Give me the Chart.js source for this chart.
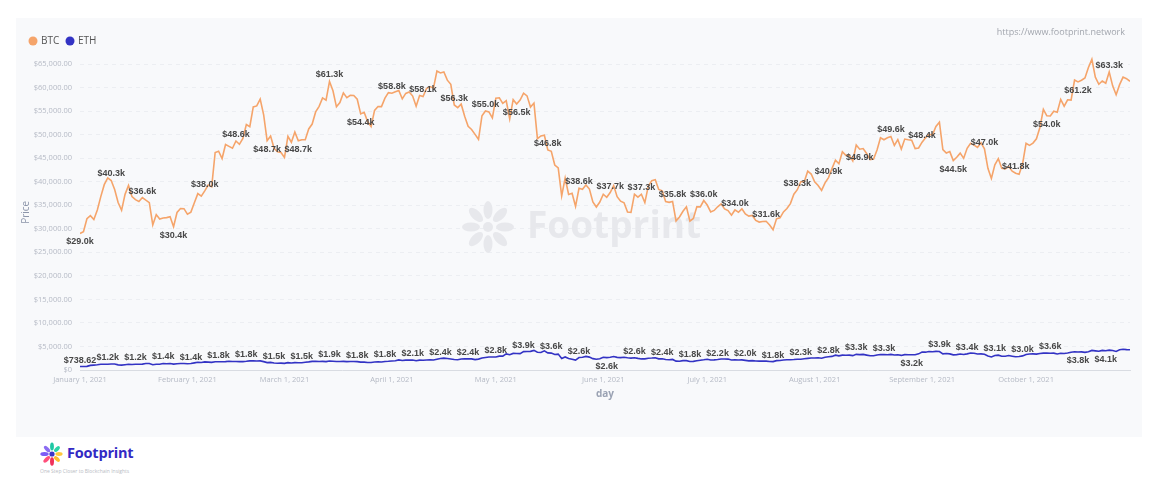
<!DOCTYPE html>
<html>
<head>
<meta charset="utf-8">
<script src="https://cdn.jsdelivr.net/npm/chart.js@4.4.0/dist/chart.umd.min.js"></script>
<style>
  html, body { margin: 0; padding: 0; background: #fff; width: 1154px; height: 490px; overflow: hidden; }
  #panel { position: absolute; left: 16px; top: 18px; width: 1126px; height: 419px; background: #f8f9fb; }
  #panel canvas { display: block; }
  #logo { position: absolute; left: 40px; top: 441px; width: 110px; height: 36px; font-family: "Open Sans", sans-serif; }
  #logo svg { position: absolute; left: 0; top: 0; }
  #logo .name { position: absolute; left: 27px; top: 2px; font-size: 14.5px; font-weight: 700; color: #3329c4; letter-spacing: -0.2px; }
  #logo .tag { position: absolute; left: 0; top: 27px; font-size: 5px; color: #b9bcc4; white-space: nowrap; }
</style>
</head>
<body>
<div id="panel"><canvas id="priceChart" width="1126" height="419"></canvas></div>
<div id="logo">
  <svg width="26" height="26" viewBox="0 0 26 26">
    <g transform="translate(12,13)">
      <ellipse rx="1.9" ry="4" transform="rotate(-45) translate(0,-7)" fill="#8b6cf2"/>
      <ellipse rx="1.9" ry="4" transform="rotate(0) translate(0,-7.5)" fill="#1fc7a4"/>
      <ellipse rx="1.9" ry="3.6" transform="rotate(45) translate(0,-7)" fill="#2bd3a6"/>
      <ellipse rx="1.9" ry="3.6" transform="rotate(90) translate(0,-7)" fill="#ffc83d"/>
      <ellipse rx="1.9" ry="3.6" transform="rotate(135) translate(0,-7)" fill="#ffbe2e"/>
      <ellipse rx="2" ry="4.2" transform="rotate(180) translate(0,-7.5)" fill="#f0335b"/>
      <ellipse rx="2" ry="4.2" transform="rotate(225) translate(0,-7.5)" fill="#ff4f7b"/>
      <ellipse rx="2" ry="4.2" transform="rotate(270) translate(0,-7.5)" fill="#7b5cf5"/>
      <circle r="2.6" fill="#3d34c7"/>
    </g>
  </svg>
  <div class="name">Footprint</div>
  <div class="tag">One Step Closer to Blockchain Insights</div>
</div>
<script>
  // 日ごとの価格 (2021/1/1 = 0)
  const btcPrice = [
    29000,29374,32127,32782,31971,33992,36824,39371,40797,40254,
    38356,35566,33923,37316,39187,36825,36178,35792,36630,36069,
    35547,30825,33005,32067,32289,32366,32569,30432,33466,34316,
    34269,33114,33537,35510,37472,36926,38040,39266,38903,46196,
    46481,44918,47909,47504,47105,48640,47945,49199,52149,51679,
    55888,56099,57539,54207,48700,49705,47093,46339,46188,45137,
    49631,48378,50538,48700,48927,48912,51206,52246,54824,56008,
    57805,57332,61300,59302,55907,56804,58870,57858,58346,58313,
    57523,54400,54738,52774,51704,55137,55974,55947,57750,58917,
    58800,59095,59384,57604,58758,59057,58192,56048,58323,58100,
    59794,60204,59893,63504,63110,63314,61572,60683,56300,55724,
    56473,53906,51763,51094,50050,49004,54021,55033,54824,53555,
    57750,57828,56631,57200,53333,57424,56500,57356,58804,58232,
    55859,56704,49150,49716,49880,46760,46456,43538,42909,37002,
    40782,37304,37536,34770,38600,38402,39294,38436,35697,34616,
    35678,37332,36684,37700,39187,36825,35871,35520,33560,33472,
    37345,36702,37334,35552,39097,40218,40406,38347,38053,35787,
    35615,35800,31676,32505,33723,34662,31637,32186,34650,34649,
    36000,35041,33572,33897,34668,35287,34235,33855,32877,34000,
    33520,34240,33155,32702,32822,31780,31421,31533,31600,30817,
    29807,32110,32313,33581,34292,35350,37337,38300,39995,40008,
    42235,41626,39974,39201,38152,39747,40869,42816,44555,43798,
    46365,45585,45593,44428,47793,46900,47047,46004,44695,44801,
    46717,49339,48905,49321,49600,47706,48960,46942,49058,48902,
    48829,47054,47166,48400,49327,50025,49944,51753,52633,46811,
    46091,46391,44500,45201,46063,44963,47092,48177,47783,47267,
    48278,47000,42844,40694,43574,44896,42840,42717,43209,42236,
    41800,41564,43791,48165,47712,48200,49113,51514,55362,54000,
    53967,54968,54772,57484,56041,57401,57321,61593,61200,61553,
    62027,64262,65993,62210,60693,61393,60931,63300,60364,58482,
    60622,62228,61888,61318
  ];
  const ethPrice = [
    738.62,730,775,979,1042,1100,1208,1225,1224,1282,
    1262,1090,1043,1131,1229,1170,1233,1230,1257,1377,
    1383,1121,1236,1231,1392,1325,1363,1252,1332,1382,
    1377,1314,1370,1511,1660,1594,1719,1677,1614,1746,
    1768,1744,1783,1843,1814,1804,1779,1781,1848,1937,
    1960,1919,1935,1777,1573,1625,1475,1446,1459,1416,
    1564,1492,1575,1541,1533,1654,1723,1834,1868,1799,
    1826,1772,1924,1854,1791,1806,1823,1782,1807,1809,
    1781,1680,1669,1582,1588,1703,1716,1692,1819,1846,
    1919,1977,2143,2028,2093,2108,2118,1971,2088,2072,
    2136,2157,2139,2299,2435,2519,2431,2345,2237,2166,
    2331,2364,2403,2363,2214,2316,2534,2662,2747,2757,
    2773,2945,2950,3431,3253,3522,3490,3484,3903,3928,
    3953,4169,3785,3716,4079,3638,3587,3282,3374,2460,
    2772,2431,2296,2109,2643,2706,2888,2736,2419,2279,
    2386,2706,2634,2706,2856,2688,2630,2715,2590,2517,
    2608,2471,2353,2373,2508,2537,2610,2368,2372,2231,
    2178,2246,1888,1874,1990,1989,1813,1829,1978,2084,
    2167,2274,2113,2150,2226,2321,2324,2315,2116,2146,
    2112,2140,2037,1940,1994,1911,1880,1898,1895,1820,
    1787,1995,2025,2124,2187,2191,2233,2298,2297,2380,
    2462,2536,2561,2610,2502,2724,2827,2890,3157,3014,
    3163,3144,3165,3049,3322,3265,3310,3156,3014,3020,
    3182,3286,3260,3242,3320,3172,3224,3100,3270,3244,
    3227,3224,3433,3834,3790,3941,3887,3952,3927,3427,
    3497,3427,3212,3270,3410,3285,3429,3615,3571,3398,
    3432,3329,2958,2764,3077,3155,2931,2925,3063,2934,
    2807,2853,3001,3307,3391,3418,3380,3518,3581,3587,
    3563,3575,3415,3545,3493,3606,3786,3863,3831,3848,
    3748,3877,4155,4056,3972,4169,4083,4218,4131,3930,
    4288,4414,4325,4288
  ];
  // x軸の目盛り (日番号とラベル)
  const monthTickDays = [0, 31, 59, 90, 120, 151, 181, 212, 243, 273];
  const monthTickLabels = ['January 1, 2021', 'February 1, 2021', 'March 1, 2021', 'April 1, 2021', 'May 1, 2021',
    'June 1, 2021', 'July 1, 2021', 'August 1, 2021', 'September 1, 2021', 'October 1, 2021'];
  const yTickValues = [0, 5000, 10000, 15000, 20000, 25000, 30000, 35000, 40000, 45000, 50000, 55000, 60000, 65000];

  // ラベル表示 (何点おきか, 下側に置く点)
  const btcLabelStep = 9, ethLabelStep = 8;
  const btcBelow = [0, 27, 54, 63, 81, 126, 225, 252, 279, 288];
  const ethBelow = [152, 240, 288, 296];

  const btcColor = '#f5a46a';
  const ethColor = '#3333c4';

  const fmtLabel = v => v < 1000 ? '$' + v.toFixed(2) : '$' + (v / 1000).toFixed(1) + 'k';
  const fmtAxis = v => v === 0 ? '$0' : '$' + v.toLocaleString('en-US', { minimumFractionDigits: 2, maximumFractionDigits: 2 });

  const fpPlugin = {
    id: 'fpDecor',
    beforeDatasetsDraw(chart) {
      // 透かしロゴ
      const ctx = chart.ctx;
      ctx.save();
      ctx.fillStyle = '#e7e8ec';
      const cx = 472, cy = 209;
      for (let k = 0; k < 8; k++) {
        const a = k * Math.PI / 4;
        ctx.save();
        ctx.translate(cx + Math.cos(a) * 17, cy + Math.sin(a) * 17);
        ctx.rotate(a);
        ctx.beginPath();
        ctx.ellipse(0, 0, 9, 4.5, 0, 0, Math.PI * 2);
        ctx.fill();
        ctx.restore();
      }
      ctx.beginPath();
      ctx.arc(cx, cy, 5, 0, Math.PI * 2);
      ctx.fill();
      ctx.font = 'bold 37px "Open Sans"';
      ctx.textBaseline = 'alphabetic';
      ctx.fillText('Footprint', 511, 220);
      ctx.restore();
    },
    afterDatasetsDraw(chart) {
      const ctx = chart.ctx;
      ctx.save();
      ctx.font = 'bold 9px "Liberation Sans"';
      ctx.fillStyle = '#474747';
      ctx.textAlign = 'center';
      const drawSet = (dsIndex, data, step, below) => {
        const meta = chart.getDatasetMeta(dsIndex);
        for (let i = 0; i < data.length; i += step) {
          const pt = meta.data[i];
          if (below.includes(i)) {
            ctx.textBaseline = 'top';
            ctx.fillText(fmtLabel(data[i]), pt.x, pt.y + 4);
          } else {
            ctx.textBaseline = 'bottom';
            ctx.fillText(fmtLabel(data[i]), pt.x, pt.y - 2);
          }
        }
      };
      drawSet(0, btcPrice, btcLabelStep, btcBelow);
      drawSet(1, ethPrice, ethLabelStep, ethBelow);
      ctx.restore();
    },
    afterDraw(chart) {
      const ctx = chart.ctx;
      ctx.save();
      // 凡例
      ctx.font = '10px "Open Sans"';
      ctx.textBaseline = 'middle';
      ctx.fillStyle = btcColor;
      ctx.beginPath(); ctx.arc(17, 23, 4.5, 0, Math.PI * 2); ctx.fill();
      ctx.fillStyle = '#555';
      ctx.fillText('BTC', 25, 23);
      ctx.fillStyle = ethColor;
      ctx.beginPath(); ctx.arc(54, 23, 4.5, 0, Math.PI * 2); ctx.fill();
      ctx.fillStyle = '#555';
      ctx.fillText('ETH', 62, 23);
      // URL
      ctx.font = '9px "Open Sans"';
      ctx.fillStyle = '#a2a6ae';
      ctx.textAlign = 'right';
      ctx.fillText('https://www.footprint.network', 1109, 14);
      ctx.restore();
    }
  };

  const ctx = document.getElementById('priceChart').getContext('2d');
  const priceChart = new Chart(ctx, {
    type: 'line',
    data: {
      datasets: [{
        label: 'BTC',
        data: btcPrice.map((v, i) => ({ x: i, y: v })),
        borderColor: btcColor,
        backgroundColor: btcColor,
        borderWidth: 1.6,
        pointRadius: 0,
        tension: 0
      }, {
        label: 'ETH',
        data: ethPrice.map((v, i) => ({ x: i, y: v })),
        borderColor: ethColor,
        backgroundColor: ethColor,
        borderWidth: 1.6,
        pointRadius: 0,
        tension: 0
      }]
    },
    options: {
      responsive: false,
      animation: false,
      devicePixelRatio: 1,
      layout: { padding: { top: 36.6, right: 12, left: 0, bottom: 0 } },
      plugins: {
        legend: { display: false },
        tooltip: { enabled: false }
      },
      scales: {
        x: {
          type: 'linear',
          min: 0,
          max: 303,
          afterBuildTicks: s => { s.ticks = monthTickDays.map(v => ({ value: v })); },
          afterFit: s => { s.height = 67; },
          ticks: {
            autoSkip: false,
            maxRotation: 0,
            padding: 5,
            color: '#b5bac5',
            font: { size: 7.5, family: '"Open Sans"' },
            callback: v => monthTickLabels[monthTickDays.indexOf(v)] || ''
          },
          grid: { display: false, drawTicks: false },
          border: { color: '#d9dce2' },
          title: {
            display: true,
            text: 'day',
            color: '#9aa2b3',
            font: { size: 10, weight: 'bold', family: '"Open Sans"' },
            padding: { top: 4, bottom: 37 }
          }
        },
        y: {
          min: 0,
          max: 67000,
          afterBuildTicks: s => { s.ticks = yTickValues.map(v => ({ value: v })); },
          afterFit: s => { s.width = 64; },
          ticks: {
            padding: 8,
            color: '#b5bac5',
            font: { size: 7.5, family: '"Open Sans"' },
            callback: v => fmtAxis(v)
          },
          grid: { color: '#eceef2', drawTicks: false },
          border: { display: false, dash: [4, 4] },
          title: {
            display: true,
            text: 'Price',
            color: '#8c95aa',
            font: { size: 10, family: '"Open Sans"' },
            padding: { top: 4, bottom: 4 }
          }
        }
      }
    },
    plugins: [fpPlugin]
  });
</script>
</body>
</html>
